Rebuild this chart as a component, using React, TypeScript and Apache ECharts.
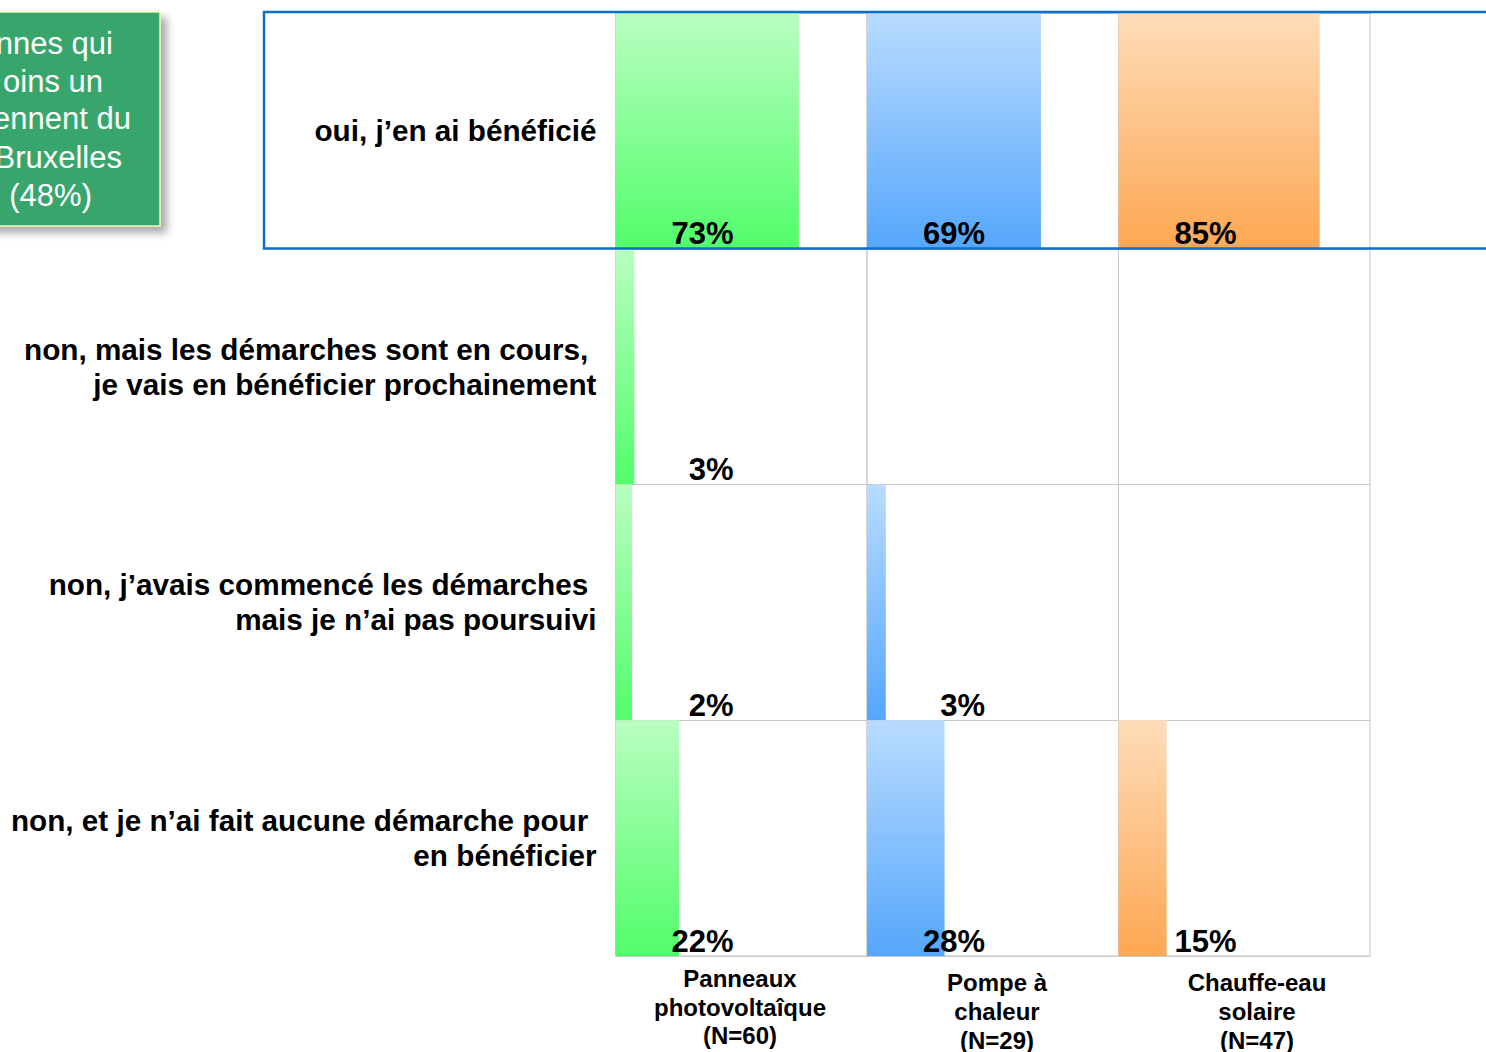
import React, { useEffect, useRef } from 'react';
import * as echarts from 'echarts';

const rowLabels = [
  'oui, j’en ai bénéficié',
  'non, mais les démarches sont en cours,\u00a0\nje vais en bénéficier prochainement',
  'non, j’avais commencé les démarches\u00a0\nmais je n’ai pas poursuivi',
  'non, et je n’ai fait aucune démarche pour\u00a0\nen bénéficier',
];
const columnLabels = [
  'Panneaux\nphotovoltaîque\n(N=60)',
  'Pompe à\nchaleur\n(N=29)',
  'Chauffe-eau\nsolaire\n(N=47)',
];
const photovoltaique = [73, 3, 2, 22];
const pompeAChaleur = [69, 0, 3, 28];
const chauffeEau = [85, 0, 0, 15];
const calloutLines = ['nnes qui', 'oins un', 'ennent du', 'Bruxelles', '(48%)'];

const seriesValues = [photovoltaique, pompeAChaleur, chauffeEau];
const gradients = [
  ['#b9fec1', '#52fd6a'],
  ['#b9dcff', '#55a6fb'],
  ['#fedcb9', '#fda752'],
];
const axisRanges = [[-5, 102], [-5, 102], [-7, 108]];
const gridLefts = [615.5, 867, 1118.5];
const colLabelX = [740, 997, 1257];
const colLabelY = [964, 968.5, 968.5];
const calloutPos = [[113, 43], [103, 81], [131, 118], [122, 157], [92, 195]];

const FONT = '"Liberation Sans", Arial, sans-serif';

export default function App() {
  const ref = useRef<HTMLDivElement>(null);
  useEffect(() => {
    if (!ref.current) return;
    const chart = echarts.init(ref.current, undefined, { renderer: 'svg' });
    const grids = gridLefts.map((l) => ({
      left: l,
      top: 13,
      width: 251.5,
      height: 943,
      show: true,
      borderColor: '#c8c8c8',
      borderWidth: 1,
      containLabel: false,
    }));
    const xAxes = axisRanges.map((r, i) => ({
      type: 'value',
      gridIndex: i,
      min: r[0],
      max: r[1],
      axisLabel: { show: false },
      axisLine: { show: false },
      axisTick: { show: false },
      splitLine: { show: false },
    }));
    const yAxes = gridLefts.map((_, i) => ({
      type: 'category',
      gridIndex: i,
      inverse: true,
      data: rowLabels,
      axisLine: { show: false },
      axisTick: { show: false },
      splitLine: { show: true, lineStyle: { color: '#c8c8c8', width: 1 } },
      axisLabel: {
        show: i === 0,
        margin: 19,
        fontSize: 29.7,
        fontWeight: 'bold',
        fontFamily: FONT,
        color: '#000',
        lineHeight: 35,
        align: 'right',
        backgroundColor: 'rgba(255,255,255,0)',
        padding: [0, 0, 6, 0],
      },
    }));
    const series = seriesValues.map((vals, i) => ({
      type: 'custom',
      xAxisIndex: i,
      yAxisIndex: i,
      encode: { x: 0, y: 1 },
      data: vals.map((v, r) => [v, r]),
      renderItem: (params: any, api: any) => {
        const v = api.value(0);
        const idx = api.value(1);
        if (!v) return null;
        const c = api.coord([v, idx]);
        const band = api.size([0, 1])[1];
        const cs = params.coordSys;
        const top = c[1] - band / 2;
        return {
          type: 'group',
          children: [
            {
              type: 'rect',
              shape: { x: cs.x, y: top, width: c[0] - cs.x, height: band },
              style: {
                fill: new echarts.graphic.LinearGradient(0, 0, 0, 1, [
                  { offset: 0, color: gradients[i][0] },
                  { offset: 1, color: gradients[i][1] },
                ]),
              },
            },
            {
              type: 'text',
              z2: 10,
              style: {
                text: v + '%',
                x: cs.x + 118,
                y: top + band + 0.5,
                align: 'right',
                verticalAlign: 'bottom',
                fontSize: 31,
                fontWeight: 'bold',
                fontFamily: FONT,
                fill: '#000',
              },
            },
          ],
        };
      },
    }));
    const graphic: any[] = [
      {
        type: 'rect',
        shape: { x: -20, y: 12, width: 180, height: 214 },
        style: {
          fill: '#38a66c',
          stroke: '#f4f4b4',
          lineWidth: 1.5,
          shadowBlur: 8,
          shadowOffsetX: 6,
          shadowOffsetY: 6,
          shadowColor: 'rgba(0,0,0,0.35)',
        },
        z: 50,
      },
      ...calloutLines.map((t, k) => ({
        type: 'text',
        z: 51,
        style: {
          text: t,
          x: calloutPos[k][0],
          y: calloutPos[k][1],
          align: 'right',
          verticalAlign: 'middle',
          fontSize: 31,
          fontFamily: FONT,
          fill: '#ffffff',
        },
      })),
      {
        type: 'rect',
        z: 100,
        shape: { x: 264, y: 12, width: 1300, height: 236.5 },
        style: { fill: 'none', stroke: '#0b6fc6', lineWidth: 2.5 },
      },
      ...columnLabels.map((t, k) => ({
        type: 'text',
        z: 51,
        style: {
          text: t,
          x: colLabelX[k],
          y: colLabelY[k],
          align: 'center',
          verticalAlign: 'top',
          fontSize: 24,
          lineHeight: 28.7,
          fontWeight: 'bold',
          fontFamily: FONT,
          fill: '#000',
        },
      })),
    ];
    chart.setOption({
      animation: false,
      backgroundColor: '#ffffff',
      grid: grids,
      xAxis: xAxes,
      yAxis: yAxes,
      series,
      graphic,
    });
    return () => chart.dispose();
  }, []);
  return (
    <div
      ref={ref}
      style={{ position: 'absolute', left: 0, top: 0, width: 1486, height: 1052 }}
    />
  );
}
